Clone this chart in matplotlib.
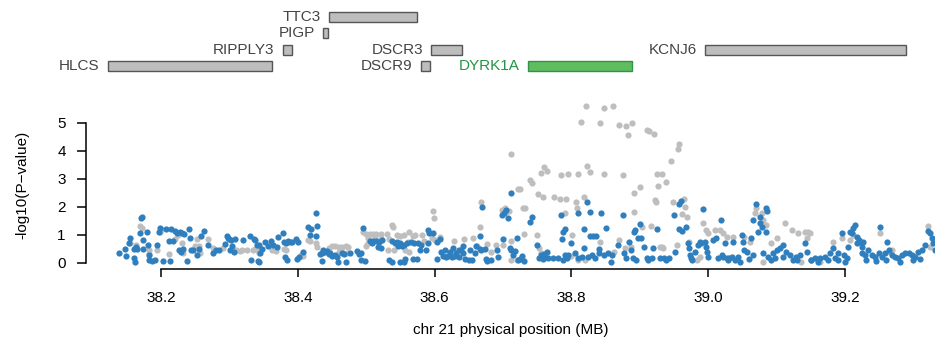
import matplotlib.pyplot as plt
from matplotlib.patches import Rectangle

plt.rcParams['font.family'] = ['Liberation Sans', 'DejaVu Sans']

# genes: name, start, end (MB), row in the track
genes = ['HLCS', 'RIPPLY3', 'PIGP', 'TTC3', 'DSCR9', 'DSCR3', 'DYRK1A', 'KCNJ6']
gene_start = [38.1225, 38.378, 38.437, 38.446, 38.580, 38.595, 38.737, 38.995]
gene_end = [38.362, 38.392, 38.444, 38.574, 38.593, 38.640, 38.889, 39.289]
gene_row = [0, 1, 2, 3, 0, 1, 0, 1]
highlight = 'DYRK1A'

# grey points
grey_x = [38.155, 38.164, 38.170, 38.172, 38.182, 38.183, 38.194, 38.198, 38.200, 38.211,
          38.220, 38.225, 38.230, 38.232, 38.250, 38.252, 38.255, 38.257, 38.268, 38.276,
          38.290, 38.310, 38.315, 38.318, 38.325, 38.335, 38.343,
          38.337, 38.342, 38.362, 38.368, 38.380, 38.383, 38.405, 38.408, 38.415, 38.418,
          38.427, 38.428, 38.445, 38.450, 38.455, 38.460, 38.465, 38.470, 38.474, 38.460,
          38.465, 38.472, 38.496, 38.499, 38.500, 38.502, 38.505, 38.510, 38.515, 38.522,
          38.530, 38.503, 38.513, 38.522, 38.533, 38.537, 38.539, 38.545, 38.550, 38.555,
          38.532, 38.540, 38.556,
          38.563, 38.568, 38.572, 38.561, 38.563, 38.582, 38.584, 38.598, 38.599, 38.596,
          38.600, 38.608, 38.628, 38.643, 38.656, 38.667, 38.662, 38.676, 38.683, 38.690,
          38.668, 38.698, 38.703, 38.705, 38.709, 38.700, 38.712, 38.730, 38.732, 38.711,
          38.722, 38.725, 38.729, 38.739, 38.743, 38.755, 38.760, 38.764, 38.751, 38.759,
          38.750, 38.752, 38.755, 38.712, 38.720, 38.727,
          38.775, 38.783, 38.792, 38.785, 38.795, 38.809, 38.814, 38.822, 38.823, 38.827,
          38.818, 38.808, 38.807, 38.842, 38.848, 38.861, 38.847, 38.870, 38.880, 38.883,
          38.876, 38.888, 38.910, 38.914, 38.921, 38.958, 38.956, 38.946, 38.925, 38.932,
          38.926, 38.939, 38.900, 38.892, 38.922, 38.924, 38.891, 38.948, 38.965, 38.966,
          38.962, 38.969, 38.917, 38.903, 38.930, 38.934, 38.791, 38.801, 38.842, 38.869,
          38.878, 38.955, 38.972, 38.820, 38.810, 38.800, 38.862, 38.887, 38.932,
          38.992, 38.997, 39.000, 39.010, 39.017, 39.022, 39.027, 39.036, 39.053, 39.061,
          39.068, 39.070, 39.078, 39.080, 39.085, 39.092, 39.100, 39.112, 39.122, 39.131,
          39.141, 39.146, 39.144, 38.983, 38.988, 39.080, 39.136,
          39.149, 39.164, 39.183, 39.195, 39.207, 39.212, 39.251, 39.266, 39.268, 39.322,
          39.324]
grey_y = [0.70, 0.64, 1.32, 1.26, 0.45, 0.33, 0.46, 1.12, 1.20, 0.32,
          0.85, 1.00, 0.72, 0.35, 0.62, 0.85, 0.62, 0.35, 0.85, 0.52,
          0.52, 0.45, 0.42, 0.46, 0.48, 0.48, 0.35,
          0.50, 0.45, 0.45, 0.42, 0.50, 0.45, 0.30, 0.26, 0.83, 0.80,
          0.72, 0.58, 0.55, 0.62, 0.62, 0.58, 0.58, 0.62, 0.58, 0.40,
          0.38, 0.36, 1.10, 1.02, 0.60, 0.70, 1.05, 1.05, 1.05, 1.05,
          1.05, 0.88, 0.88, 0.86, 0.84, 1.35, 1.27, 1.00, 0.95, 1.00,
          0.48, 0.45, 0.46,
          1.10, 0.95, 1.00, 0.75, 0.40, 1.00, 0.78, 1.87, 1.60, 0.90,
          0.82, 0.92, 0.80, 0.85, 0.88, 1.30, 0.62, 0.68, 0.40, 0.65,
          2.19, 1.90, 1.95, 1.82, 1.84, 0.65, 0.78, 1.03, 1.95, 3.88,
          2.63, 2.65, 1.98, 2.96, 2.87, 3.20, 3.42, 3.30, 2.45, 2.37,
          1.00, 0.55, 0.35, 0.10, 0.10, 0.15,
          2.35, 2.29, 2.27, 3.14, 3.18, 3.17, 5.04, 5.61, 3.48, 3.24,
          2.35, 1.95, 2.19, 4.99, 5.52, 5.62, 3.17, 4.94, 4.90, 4.58,
          3.14, 4.99, 4.75, 4.73, 4.60, 4.25, 4.08, 3.63, 3.17, 3.18,
          2.76, 2.88, 2.73, 2.49, 2.25, 2.19, 1.81, 2.19, 2.29, 2.01,
          1.74, 1.64, 1.32, 1.28, 0.58, 0.52, 1.77, 1.00, 0.76, 0.82,
          0.52, 0.64, 0.76, 0.10, 0.12, 0.25, 0.40, 0.58, 0.58,
          1.42, 1.18, 1.06, 1.18, 1.18, 1.08, 0.94, 0.94, 0.94, 0.76,
          1.77, 1.95, 1.77, 1.54, 1.36, 0.70, 0.88, 1.42, 1.18, 1.06,
          1.12, 1.12, 0.88, 0.11, 0.23, 0.05, 0.05,
          1.06, 0.05, 0.76, 0.88, 0.82, 1.00, 1.06, 0.40, 0.46, 1.32,
          0.58]

# blue points
blue_x = [38.138, 38.147, 38.149, 38.153, 38.155, 38.160, 38.161, 38.162, 38.163, 38.165,
          38.169, 38.171, 38.172, 38.173, 38.174, 38.180, 38.181, 38.182, 38.183, 38.187,
          38.191, 38.194, 38.197, 38.198, 38.203, 38.208, 38.212, 38.213, 38.214, 38.218,
          38.221, 38.224, 38.226, 38.228, 38.229, 38.231, 38.232, 38.234, 38.238, 38.241,
          38.242, 38.244, 38.247, 38.253, 38.256, 38.258, 38.263, 38.268, 38.276, 38.280,
          38.285, 38.294, 38.296, 38.298, 38.300, 38.301, 38.302, 38.304, 38.307, 38.308,
          38.320, 38.330, 38.331, 38.336, 38.341, 38.342,
          38.338, 38.343, 38.345, 38.344, 38.347, 38.352, 38.357, 38.361, 38.364, 38.369,
          38.371, 38.379, 38.380, 38.383, 38.386, 38.389, 38.381, 38.384, 38.391, 38.398,
          38.401, 38.399, 38.402, 38.408, 38.415, 38.418, 38.419, 38.427, 38.428, 38.427,
          38.433, 38.435, 38.437, 38.440, 38.442, 38.445, 38.436, 38.447, 38.450, 38.455,
          38.457, 38.459, 38.471, 38.465, 38.468, 38.476, 38.486, 38.490, 38.493, 38.492,
          38.498, 38.496, 38.505, 38.508, 38.510, 38.515, 38.518, 38.523, 38.517, 38.522,
          38.533, 38.537, 38.537, 38.542, 38.545, 38.547, 38.550, 38.553, 38.550, 38.555,
          38.549, 38.555, 38.560, 38.565, 38.570, 38.575, 38.580, 38.556, 38.568, 38.574,
          38.579, 38.588, 38.590, 38.592, 38.597, 38.590, 38.603, 38.608, 38.603, 38.610,
          38.613, 38.615, 38.617, 38.620, 38.622, 38.625, 38.627, 38.630, 38.632, 38.635,
          38.636, 38.638, 38.641, 38.642, 38.645, 38.650, 38.652, 38.654, 38.659, 38.661,
          38.666, 38.668, 38.666, 38.669, 38.675, 38.677, 38.683, 38.673, 38.691, 38.693,
          38.700, 38.698, 38.701, 38.704, 38.708, 38.710, 38.712, 38.711, 38.720, 38.715,
          38.717, 38.722, 38.725, 38.728, 38.730, 38.740, 38.743, 38.750, 38.752, 38.755,
          38.758, 38.760, 38.762,
          38.764, 38.766, 38.773, 38.780, 38.788, 38.790, 38.793, 38.795, 38.785, 38.786,
          38.788, 38.790, 38.800, 38.805, 38.810, 38.815, 38.818, 38.809, 38.818, 38.823,
          38.827, 38.827, 38.832, 38.836, 38.824, 38.830, 38.835, 38.840, 38.843, 38.850,
          38.840, 38.848, 38.853, 38.858, 38.860, 38.868, 38.876, 38.877, 38.880, 38.884,
          38.887, 38.892, 38.893, 38.897, 38.900, 38.902, 38.906, 38.890, 38.895, 38.910,
          38.912, 38.918, 38.920, 38.925, 38.930, 38.935, 38.938, 38.943, 38.950, 38.952,
          38.957, 38.958, 38.960, 38.962, 38.968, 38.970, 38.972, 38.974, 38.976,
          38.975, 38.980, 38.985, 38.988, 38.990, 38.992, 38.995, 38.997, 38.998, 39.000,
          39.007, 39.012, 39.014, 39.019, 39.022, 39.024, 39.027, 39.029, 39.031, 39.036,
          39.039, 39.044, 39.046, 39.049, 39.051, 39.053, 39.056, 39.063, 39.066, 39.066,
          39.070, 39.075, 39.076, 39.078, 39.084, 39.086, 39.085, 39.073, 39.080, 39.088,
          39.092, 39.097, 39.101, 39.105, 39.109, 39.114, 39.119, 39.124, 39.129, 39.134,
          39.141, 39.144, 39.151, 39.020, 39.035, 39.060, 39.095, 39.110, 39.130,
          39.151, 39.156, 39.164, 39.171, 39.178, 39.183, 39.186, 39.190, 39.195, 39.198,
          39.203, 39.205, 39.207, 39.210, 39.212, 39.215, 39.217, 39.217, 39.220, 39.222,
          39.225, 39.227, 39.225, 39.229, 39.234, 39.239, 39.244, 39.249, 39.251, 39.254,
          39.259, 39.261, 39.264, 39.268, 39.273, 39.278, 39.283, 39.288, 39.293, 39.298,
          39.303, 39.307, 39.312, 39.317, 39.322, 39.324, 39.327, 39.329, 39.332, 39.160,
          39.175, 39.190, 39.200, 39.230, 39.245, 39.260, 39.280, 39.300, 39.310]
blue_y = [0.37, 0.49, 0.25, 0.70, 0.90, 0.49, 0.18, 0.05, 0.57, 0.49,
          1.06, 1.60, 1.65, 0.82, 0.49, 1.10, 0.64, 0.27, 0.10, 0.08,
          0.10, 0.64, 1.12, 1.24, 0.08, 1.20, 0.80, 0.06, 1.20, 0.80,
          1.15, 1.08, 0.46, 1.12, 0.40, 1.08, 0.50, 1.05, 0.06, 1.20,
          0.88, 0.45, 0.45, 0.30, 0.50, 0.98, 1.16, 0.64, 0.35, 0.48,
          0.48, 0.68, 0.98, 0.90, 0.85, 0.45, 0.82, 0.60, 0.40, 0.85,
          0.82, 0.98, 0.11, 0.85, 0.64, 0.06,
          0.82, 0.65, 0.35, 0.05, 0.49, 0.76, 0.59, 0.80, 0.65, 0.58,
          0.93, 1.06, 0.75, 0.72, 0.78, 0.74, 0.22, 0.11, 0.74, 0.84,
          0.74, 0.14, 0.23, 0.41, 1.27, 0.99, 1.20, 1.77, 1.32, 0.96,
          0.33, 0.37, 0.45, 0.38, 0.42, 0.33, 0.06, 0.37, 0.25, 0.30,
          0.22, 0.05, 0.05, 0.37, 0.32, 0.37, 0.42, 0.32, 0.37, 0.10,
          0.08, 1.24, 0.77, 0.72, 0.78, 0.77, 0.74, 0.82, 0.58, 0.52,
          0.10, 0.05, 0.78, 0.72, 0.75, 0.60, 0.64, 0.60, 0.05, 0.05,
          0.70, 0.65, 0.72, 0.75, 0.70, 0.72, 0.65, 0.13, 0.13, 0.13,
          0.46, 0.46, 0.70, 1.07, 1.07, 1.18, 0.75, 0.85, 0.13, 0.40,
          0.25, 0.45, 0.20, 0.25, 0.40, 0.22, 0.55, 0.25, 0.35, 0.45,
          0.22, 0.45, 0.60, 0.35, 0.16, 0.10, 0.45, 0.10, 0.36, 0.62,
          0.50, 0.48, 0.98, 2.01, 0.16, 0.06, 0.10, 0.50, 0.45, 0.20,
          0.85, 1.70, 1.78, 1.90, 1.62, 0.52, 0.45, 2.49, 0.88, 0.30,
          0.44, 0.10, 0.13, 0.25, 0.06, 1.45, 1.66, 0.64, 0.18, 0.30,
          0.16, 0.32, 0.22,
          0.40, 0.17, 0.17, 0.17, 0.11, 0.30, 0.17, 0.30, 1.71, 0.85,
          1.10, 1.20, 0.70, 0.35, 0.17, 0.23, 0.52, 1.77, 1.23, 2.19,
          1.81, 0.95, 0.95, 0.95, 0.23, 0.30, 0.17, 0.35, 1.77, 1.25,
          0.50, 0.30, 0.36, 0.05, 0.30, 0.65, 1.71, 0.36, 0.17, 0.76,
          0.47, 1.12, 1.18, 0.88, 1.40, 0.90, 0.58, 0.17, 0.11, 0.17,
          0.11, 0.17, 0.52, 1.23, 0.17, 0.17, 0.11, 0.17, 1.70, 0.40,
          1.20, 2.10, 2.20, 1.15, 1.27, 0.70, 0.52, 0.30, 0.11,
          0.17, 0.40, 0.64, 0.76, 0.70, 1.92, 0.76, 0.58, 0.40, 0.23,
          0.82, 0.88, 0.17, 1.54, 0.23, 0.70, 0.17, 0.11, 0.17, 0.76,
          0.11, 0.23, 0.05, 1.00, 0.76, 0.46, 0.40, 0.88, 0.29, 1.54,
          2.11, 1.65, 1.42, 1.30, 1.95, 1.87, 1.12, 1.12, 0.35, 0.23,
          0.11, 0.17, 0.46, 0.52, 0.64, 0.40, 0.29, 0.11, 0.23, 0.29,
          0.70, 0.40, 0.11, 0.28, 0.20, 0.15, 0.35, 0.22, 0.12,
          0.11, 0.17, 0.17, 0.23, 0.35, 0.52, 0.17, 0.35, 1.06, 0.29,
          0.17, 0.58, 1.12, 1.06, 1.24, 1.36, 0.94, 0.70, 0.82, 0.76,
          0.58, 0.76, 0.35, 0.29, 0.46, 0.29, 0.23, 0.35, 1.30, 0.23,
          0.35, 0.76, 0.46, 0.29, 0.23, 0.17, 0.29, 0.35, 0.35, 0.29,
          0.23, 0.40, 0.46, 0.64, 1.15, 1.06, 0.88, 0.70, 0.46, 0.05,
          0.10, 0.12, 0.05, 0.10, 0.08, 0.12, 0.05, 0.10, 0.15]

x_ticks = [38.2, 38.4, 38.6, 38.8, 39.0, 39.2]
x_ticklabels = ['38.2', '38.4', '38.6', '38.8', '39.0', '39.2']
y_ticks = [0, 1, 2, 3, 4, 5]

fig = plt.figure(figsize=(9.35, 3.45), dpi=100)
W, H = 935.0, 345.0
x_lo, x_hi = 38.2 - 75 / 684.0, 38.2 + 774 / 684.0

# scatter panel
ax = fig.add_axes([86 / W, (H - 269) / H, 849 / W, 169 / H])
ax.scatter(grey_x, grey_y, s=20, color='#bebebe', linewidths=0, zorder=2)
ax.scatter(blue_x, blue_y, s=20, color='#2f7fbf', linewidths=0, zorder=3)
ax.set_xlim(x_lo, x_hi)
ax.set_ylim(-6 / 28.0, 163 / 28.0)
for s in ['top', 'right']:
    ax.spines[s].set_visible(False)
ax.spines['left'].set_bounds(0, 5)
ax.spines['bottom'].set_bounds(38.2, 39.2)
ax.spines['left'].set_linewidth(1.1)
ax.spines['bottom'].set_linewidth(1.1)
ax.set_xticks(x_ticks)
ax.set_xticklabels(x_ticklabels)
ax.set_yticks(y_ticks)
ax.tick_params(axis='x', length=6, width=1.1, pad=10, labelsize=11)
ax.tick_params(axis='y', length=6.5, width=1.1, pad=8, labelsize=11)
ax.set_xlabel('chr 21 physical position (MB)', fontsize=11, labelpad=13)
ax.set_ylabel('-log10(P\u2212value)', fontsize=11, labelpad=20)

# gene track
gx = fig.add_axes([86 / W, (H - 80) / H, 849 / W, 75 / H])
gx.set_xlim(x_lo, x_hi)
gx.set_ylim(-0.857, 3.735)
gx.axis('off')
for name, a, b, r in zip(genes, gene_start, gene_end, gene_row):
    if name == highlight:
        fc, ec, tc = '#5fbd5f', '#2f9447', '#239443'
    else:
        fc, ec, tc = '#bdbdbd', '#555555', '#444444'
    gx.add_patch(Rectangle((a, r - 0.3), b - a, 0.6, facecolor=fc, edgecolor=ec, linewidth=1.0))
    gx.text(a - 0.012, r, name, ha='right', va='center', fontsize=11, color=tc)

fig.savefig('out.png', dpi=100)
